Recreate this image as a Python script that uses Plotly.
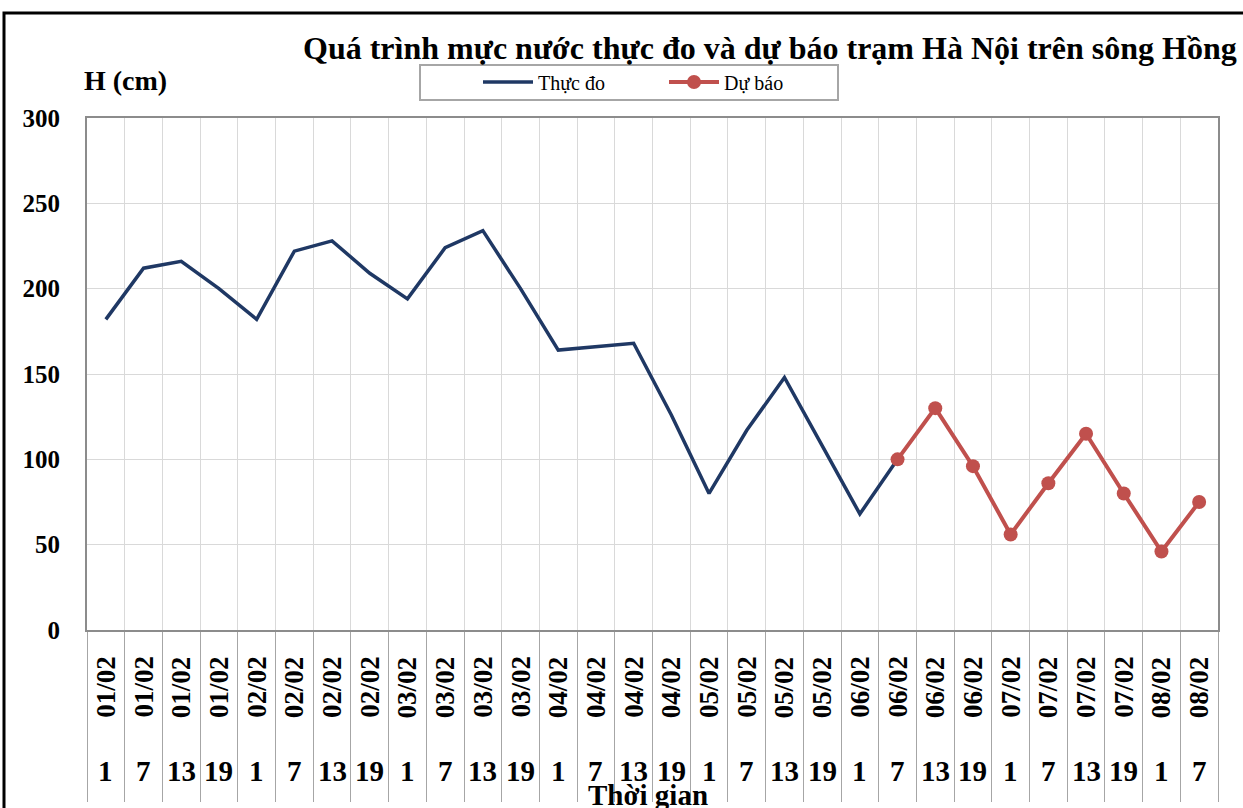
import plotly.graph_objects as go

# ---- data ----
dates = ["01/02", "01/02", "01/02", "01/02",
         "02/02", "02/02", "02/02", "02/02",
         "03/02", "03/02", "03/02", "03/02",
         "04/02", "04/02", "04/02", "04/02",
         "05/02", "05/02", "05/02", "05/02",
         "06/02", "06/02", "06/02", "06/02",
         "07/02", "07/02", "07/02", "07/02",
         "08/02", "08/02"]
hours = ["1", "7", "13", "19"] * 7 + ["1", "7"]

measured = [182, 212, 216, 200, 182, 222, 228, 209, 194, 224, 234, 200,
            164, 166, 168, 126, 80, 117, 148, 108, 68, 100]
forecast = [100, 130, 96, 56, 86, 115, 80, 46, 75]
forecast_start = 21

y_ticks = [0, 50, 100, 150, 200, 250, 300]

title = "Quá trình mực nước thực đo và dự báo trạm Hà Nội trên sông Hồng"
y_title = "H (cm)"
x_title = "Thời gian"

FONT = "Liberation Serif"
n = len(dates)
x_meas = list(range(len(measured)))
x_fc = list(range(forecast_start, forecast_start + len(forecast)))

fig = go.Figure()
fig.add_trace(go.Scatter(
    x=x_meas, y=measured, mode="lines", name="Thực đo",
    line=dict(color="#1f3864", width=3.5),
))
fig.add_trace(go.Scatter(
    x=x_fc, y=forecast, mode="lines+markers", name="Dự báo",
    line=dict(color="#c0504d", width=4),
    marker=dict(color="#c0504d", size=14),
))

boundaries = [i - 0.5 for i in range(n + 1)]

fig.update_xaxes(
    range=[-0.5, n - 0.5],
    tickvals=boundaries, ticktext=[""] * len(boundaries),
    showticklabels=False, automargin=False,
    ticks="outside", ticklen=170, tickcolor="#a6a6a6", tickwidth=1,
    showgrid=True, gridcolor="#d9d9d9", gridwidth=1,
    showline=True, linecolor="#8c8c8c", linewidth=2, mirror=True,
    zeroline=False,
)
fig.update_yaxes(
    range=[0, 300], tickvals=y_ticks, automargin=False,
    ticktext=[f"<b>{v}</b>" for v in y_ticks],
    tickfont=dict(family=FONT, size=25, color="black"),
    ticklabelstandoff=20,
    showgrid=True, gridcolor="#d9d9d9", gridwidth=1,
    showline=True, linecolor="#8c8c8c", linewidth=2, mirror=True,
    zeroline=False, ticks="",
)

annotations = []
for i, (d, h) in enumerate(zip(dates, hours)):
    annotations.append(dict(
        x=i, y=(630 - 687) / 512, xref="x", yref="paper", text=f"<b>{d}</b>",
        textangle=-90, showarrow=False, xanchor="center", yanchor="middle",
        font=dict(family=FONT, size=27, color="black"),
    ))
    annotations.append(dict(
        x=i, y=(630 - 771) / 512, xref="x", yref="paper", text=f"<b>{h}</b>",
        showarrow=False, xanchor="center", yanchor="middle",
        font=dict(family=FONT, size=29, color="black"),
    ))
annotations.append(dict(
    x=(1239 - 87) / 1131, y=(630 - 48) / 512, xref="paper", yref="paper",
    xanchor="right", yanchor="middle", text=f"<b>{title}</b>", showarrow=False,
    font=dict(family=FONT, size=32, color="black"),
))
annotations.append(dict(
    x=(82 - 87) / 1131, y=(630 - 80) / 512, xref="paper", yref="paper",
    xanchor="left", yanchor="middle", text=f"<b>{y_title}</b>", showarrow=False,
    font=dict(family=FONT, size=28, color="black"),
))
annotations.append(dict(
    x=(648 - 87) / 1131, y=(630 - 795) / 512, xref="paper", yref="paper",
    xanchor="center", yanchor="middle", text=f"<b>{x_title}</b>", showarrow=False,
    font=dict(family=FONT, size=29, color="black"),
))

shapes = [
    # legend box
    dict(type="rect", xref="paper", yref="paper",
         x0=(420 - 87) / 1131, x1=(838 - 87) / 1131,
         y0=(630 - 100) / 512, y1=(630 - 65) / 512,
         line=dict(color="#a6a6a6", width=2), fillcolor="white", layer="below"),
    # outer chart border
    dict(type="rect", xref="paper", yref="paper",
         x0=(4 - 87) / 1131, x1=(1260 - 87) / 1131,
         y0=(630 - 830) / 512, y1=(630 - 13) / 512,
         line=dict(color="black", width=3), fillcolor="rgba(0,0,0,0)"),
]

fig.update_layout(
    width=1243, height=808,
    margin=dict(l=87, r=25, t=118, b=178, autoexpand=False),
    paper_bgcolor="white", plot_bgcolor="white",
    showlegend=True,
    legend=dict(
        orientation="h", x=(478 - 87) / 1131, xanchor="left",
        y=(630 - 82) / 512, yanchor="middle",
        bgcolor="rgba(0,0,0,0)", borderwidth=0,
        font=dict(family=FONT, size=20, color="black"),
        entrywidth=121, entrywidthmode="pixels",
        itemwidth=50,
    ),
    annotations=annotations,
    shapes=shapes,
)

fig.write_html(
    "out.html",
    config={"displayModeBar": False},
    post_script="document.body.style.margin='0';document.body.style.overflow='hidden';",
)
